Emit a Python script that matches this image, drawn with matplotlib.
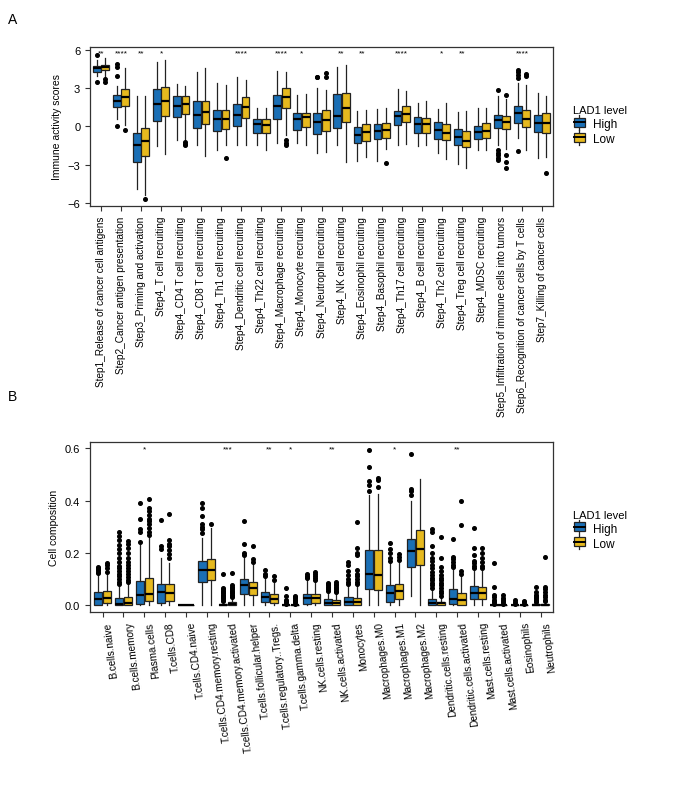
import numpy as np
import matplotlib
matplotlib.use('Agg')
from matplotlib import pyplot as plt
from matplotlib.patches import Rectangle
from matplotlib.lines import Line2D
from matplotlib.legend_handler import HandlerPatch

plt.rcParams['font.family'] = ['Liberation Sans', 'DejaVu Sans']

# ---- panel A : immune cycle steps ----
steps = ['Step1_Release of cancer cell antigens', 'Step2_Cancer antigen presentation',
         'Step3_Priming and activation', 'Step4_T cell recruiting', 'Step4_CD4 T cell recruiting',
         'Step4_CD8 T cell recruiting', 'Step4_Th1 cell recruiting', 'Step4_Dendritic cell recruiting',
         'Step4_Th22 cell recruiting', 'Step4_Macrophage recruiting', 'Step4_Monocyte recruiting',
         'Step4_Neutrophil recruiting', 'Step4_NK cell recruiting', 'Step4_Eosinophil recruiting',
         'Step4_Basophil recruiting', 'Step4_Th17 cell recruiting', 'Step4_B cell recruiting',
         'Step4_Th2 cell recruiting', 'Step4_Treg cell recruiting', 'Step4_MDSC recruiting',
         'Step5_Infiltration of immune cells into tumors', 'Step6_Recognition of cancer cells by T cells',
         'Step7_Killing of cancer cells']
a_stars = ['**', '****', '**', '*', '', '', '', '****', '', '****', '*', '', '**', '**', '',
           '****', '', '*', '**', '', '', '****', '']

a_hi_q1 = [4.3, 1.51, -2.79, 0.42, 0.73, -0.13, -0.39, 0.05, -0.52, 0.6, -0.31, -0.6, -0.13, -1.3, -0.97,
           0.08, -0.52, -0.97, -1.43, -0.97, -0.13, 0.26, -0.44]
a_hi_med = [4.57, 2.03, -1.43, 1.77, 1.64, 0.91, 0.55, 0.94, 0.16, 1.64, 0.6, 0.39, 0.86, -0.65, -0.39,
            0.81, 0.16, -0.26, -0.83, -0.44, 0.47, 1.04, 0.26]
a_hi_q3 = [4.77, 2.48, -0.52, 2.97, 2.37, 2.03, 1.33, 1.77, 0.55, 2.5, 1.04, 1.07, 2.56, -0.03, 0.23,
           1.25, 0.78, 0.37, -0.21, 0.05, 0.91, 1.62, 0.94]
a_hi_lo = [4.0, 0.6, -4.88, -1.57, -1.1, -1.49, -1.88, -1.49, -1.49, -1.28, -1.28, -2.09, -1.49, -2.71,
           -2.71, -1.49, -1.54, -2.09, -2.92, -1.88, -1.49, -0.91, -2.48]
a_hi_hi = [5.2, 3.15, 2.37, 5.09, 3.37, 4.25, 3.39, 3.86, 1.43, 4.38, 2.48, 3.0, 4.7, 1.2, 1.38,
           2.95, 1.85, 1.38, 1.17, 1.43, 2.37, 3.39, 2.63]
a_hi_fl = [[5.6, 3.5], [4.9, 4.7, 4.0, 0.0], [], [], [], [], [], [], [], [], [], [3.86, 3.92], [], [], [],
           [], [], [], [], [], [2.9, -1.88, -2.09, -2.27, -2.48, -2.66], [4.46, 4.25, 4.04, 3.83, -1.96], []]

a_lo_q1 = [4.4, 1.64, -2.32, 0.81, 0.97, 0.16, -0.23, 0.65, -0.52, 1.43, -0.05, -0.39, 0.34, -1.15, -0.89,
           0.39, -0.5, -1.1, -1.62, -0.91, -0.18, -0.05, -0.55]
a_lo_med = [4.64, 2.35, -1.15, 1.98, 1.77, 1.12, 0.55, 1.51, 0.08, 2.35, 0.73, 0.47, 1.46, -0.44, -0.26,
            0.99, 0.16, -0.5, -1.12, -0.37, 0.34, 0.6, 0.26]
a_lo_q3 = [4.85, 2.95, -0.1, 3.13, 2.37, 2.03, 1.3, 2.3, 0.55, 3.03, 1.07, 1.33, 2.6, 0.18, 0.31,
           1.62, 0.68, 0.21, -0.37, 0.26, 0.83, 1.28, 1.02]
a_lo_lo = [3.9, 0.13, -5.4, -2.17, -0.97, -2.32, -1.49, -1.49, -1.88, -0.7, -1.49, -2.0, -2.79, -2.4,
           -1.75, -1.41, -1.49, -2.53, -3.26, -1.88, -1.75, -1.83, -2.4]
a_lo_hi = [5.4, 4.57, 2.37, 5.2, 3.2, 4.57, 3.26, 3.65, 1.43, 4.3, 2.58, 2.9, 4.85, 1.3, 1.43,
           2.77, 2.03, 1.83, 1.25, 1.43, 2.17, 3.29, 2.43]
a_lo_fl = [[3.7, 3.5], [-0.3], [-5.69], [], [-1.23, -1.35, -1.49], [], [-2.5], [], [], [-1.1, -1.3, -1.49],
           [], [4.2, 3.86], [], [], [-2.84], [], [], [], [], [], [2.48, -2.27, -2.79, -3.23], [4.12, 3.99],
           [-3.65]]

# ---- panel B : cell composition ----
cells = ['B.cells.naive', 'B.cells.memory', 'Plasma.cells', 'T.cells.CD8', 'T.cells.CD4.naive',
         'T.cells.CD4.memory.resting', 'T.cells.CD4.memory.activated', 'T.cells.follicular.helper',
         'T.cells.regulatory..Tregs.', 'T.cells.gamma.delta', 'NK.cells.resting', 'NK.cells.activated',
         'Monocytes', 'Macrophages.M0', 'Macrophages.M1', 'Macrophages.M2', 'Dendritic.cells.resting',
         'Dendritic.cells.activated', 'Mast.cells.resting', 'Mast.cells.activated', 'Eosinophils',
         'Neutrophils']
b_stars = ['', '', '*', '', '', '', '***', '', '**', '*', '', '**', '', '', '*', '', '', '**', '', '', '', '']

b_hi_q1 = [0.0, 0.0, 0.005, 0.009, 0, 0.088, 0, 0.043, 0.011, 0, 0.003, 0, 0, 0.062, 0.013, 0.146, 0,
           0.003, 0.024, 0, 0, 0]
b_hi_med = [0.024, 0.004, 0.038, 0.05, 0, 0.136, 0, 0.075, 0.032, 0, 0.025, 0.009, 0.013, 0.117, 0.045,
            0.206, 0.009, 0.024, 0.047, 0, 0, 0]
b_hi_q3 = [0.051, 0.028, 0.092, 0.082, 0, 0.168, 0.004, 0.1, 0.051, 0, 0.041, 0.022, 0.032, 0.209, 0.075,
           0.253, 0.024, 0.06, 0.073, 0, 0, 0.003]
b_hi_lo = [0, 0, 0, 0, 0, 0, 0, 0, 0, 0, 0, 0, 0, 0, 0, 0.034, 0, 0, 0, 0, 0, 0]
b_hi_hi = [0.117, 0.07, 0.23, 0.18, 0, 0.257, 0.01, 0.18, 0.104, 0, 0.098, 0.05, 0.073, 0.423, 0.16,
           0.397, 0.06, 0.136, 0.13, 0, 0, 0.007]
b_hi_fl = [[0.122, 0.128, 0.133, 0.138, 0.142, 0.147],
           [0.08, 0.09, 0.1, 0.11, 0.12, 0.13, 0.14, 0.15, 0.165, 0.18, 0.2, 0.215, 0.23, 0.25, 0.265, 0.278],
           [0.24, 0.28, 0.29, 0.33, 0.39], [0.215, 0.225, 0.325], [],
           [0.275, 0.29, 0.3, 0.31, 0.34, 0.37, 0.392],
           [0.015, 0.02, 0.025, 0.03, 0.035, 0.04, 0.045, 0.05, 0.055, 0.06, 0.065, 0.12],
           [0.19, 0.2, 0.235, 0.32], [0.11, 0.12, 0.133], [0.005, 0.01, 0.015, 0.02, 0.035, 0.065],
           [0.102, 0.107, 0.112, 0.117], [0.055, 0.06, 0.065, 0.07, 0.075, 0.08, 0.085],
           [0.08, 0.09, 0.1, 0.115, 0.13, 0.155, 0.166], [0.438, 0.461, 0.476, 0.527, 0.592],
           [0.17, 0.18, 0.2, 0.215, 0.236], [0.42, 0.438, 0.446, 0.578],
           [0.065, 0.075, 0.085, 0.095, 0.105, 0.115, 0.125, 0.14, 0.155, 0.17, 0.18, 0.2, 0.225, 0.28, 0.292],
           [0.145, 0.155, 0.165, 0.175, 0.185, 0.253], [0.14, 0.15, 0.16, 0.17, 0.19, 0.22, 0.296],
           [0.005, 0.01, 0.015, 0.02, 0.03, 0.04, 0.07, 0.162], [0.005, 0.01, 0.02],
           [0.01, 0.015, 0.02, 0.025, 0.03, 0.035, 0.04, 0.05, 0.07]]

b_lo_q1 = [0.009, 0, 0.015, 0.015, 0, 0.096, 0, 0.038, 0.006, 0, 0.006, 0, 0, 0.059, 0.022, 0.153, 0, 0,
           0.024, 0, 0, 0]
b_lo_med = [0.028, 0.009, 0.043, 0.047, 0, 0.136, 0.004, 0.065, 0.024, 0, 0.028, 0.009, 0.013, 0.115,
            0.054, 0.213, 0.006, 0.018, 0.047, 0, 0, 0]
b_lo_q3 = [0.055, 0.032, 0.102, 0.079, 0, 0.178, 0.011, 0.088, 0.043, 0, 0.043, 0.018, 0.025, 0.209,
           0.079, 0.287, 0.013, 0.045, 0.07, 0, 0, 0.004]
b_lo_lo = [0] * 22
b_lo_hi = [0.121, 0.079, 0.257, 0.162, 0, 0.296, 0.025, 0.152, 0.085, 0, 0.09, 0.045, 0.073, 0.427, 0.16,
           0.483, 0.028, 0.111, 0.13, 0, 0, 0.01]
b_lo_fl = [[0.128, 0.14, 0.152, 0.16],
           [0.088, 0.097, 0.108, 0.118, 0.13, 0.14, 0.152, 0.165, 0.18, 0.2, 0.22, 0.235, 0.247],
           [0.27, 0.28, 0.295, 0.31, 0.32, 0.33, 0.345, 0.36, 0.37, 0.406],
           [0.18, 0.195, 0.21, 0.225, 0.235, 0.25, 0.35], [], [0.311],
           [0.03, 0.035, 0.04, 0.045, 0.05, 0.055, 0.06, 0.065, 0.07, 0.075, 0.124],
           [0.165, 0.175, 0.225], [0.095, 0.11], [0.005, 0.01, 0.015, 0.02, 0.025, 0.03, 0.035],
           [0.097, 0.105, 0.112, 0.12, 0.125], [0.05, 0.055, 0.06, 0.065, 0.07, 0.075, 0.08, 0.089],
           [0.08, 0.09, 0.1, 0.11, 0.12, 0.135, 0.19, 0.2, 0.22, 0.317], [0.451, 0.48, 0.485],
           [0.172, 0.182, 0.197], [],
           [0.035, 0.045, 0.055, 0.065, 0.075, 0.085, 0.095, 0.105, 0.115, 0.13, 0.145, 0.18, 0.26],
           [0.12, 0.13, 0.306, 0.397], [0.14, 0.15, 0.165, 0.18, 0.2, 0.219],
           [0.005, 0.01, 0.015, 0.02, 0.025, 0.04], [0.005, 0.01, 0.015],
           [0.015, 0.02, 0.03, 0.04, 0.05, 0.06, 0.07, 0.183]]

groups = ['High', 'Low']
colors = ['#1a6fb5', '#e6b91e']


def stats(q1, med, q3, lo, hi, fl):
    return [dict(q1=a, med=b, q3=c, whislo=d, whishi=e, fliers=f)
            for a, b, c, d, e, f in zip(q1, med, q3, lo, hi, fl)]


def draw(ax, hi_st, lo_st, n):
    x = np.arange(1, n + 1)
    for st, off, col in [(hi_st, -0.21, colors[0]), (lo_st, 0.21, colors[1])]:
        ax.bxp(st, positions=x + off, widths=0.39, patch_artist=True, showcaps=False,
               boxprops=dict(facecolor=col, edgecolor='#222222', linewidth=0.9),
               medianprops=dict(color='black', linewidth=1.6),
               whiskerprops=dict(color='#222222', linewidth=0.9),
               flierprops=dict(marker='o', markerfacecolor='black', markeredgecolor='black',
                               markersize=2.6, linestyle='none'))
    ax.set_xticks(x)
    for s in ax.spines.values():
        s.set_color('#333333')
        s.set_linewidth(0.9)
    ax.tick_params(length=3.5, width=0.8, color='#333333', labelsize=7.2)
    ax.tick_params(axis='y', labelsize=8)


class BoxKey(HandlerPatch):
    def create_artists(self, legend, orig, xd, yd, w, h, fs, trans):
        wl = Line2D([xd + w / 2] * 2, [yd - 2, yd + h + 2], color='#222222', lw=0.9, transform=trans)
        r = Rectangle((xd + w * 0.1, yd), w * 0.8, h, facecolor=orig.get_facecolor(),
                      edgecolor='#222222', lw=0.9, transform=trans)
        m = Line2D([xd + w * 0.1, xd + w * 0.9], [yd + h / 2] * 2, color='black', lw=1.4, transform=trans)
        return [wl, r, m]


def add_legend(ax, y):
    hs = [Rectangle((0, 0), 1, 1, facecolor=c) for c in colors]
    leg = ax.legend(hs, groups, title='LAD1 level', loc='upper left', bbox_to_anchor=(1.02, y),
                    frameon=False, fontsize=8.5, title_fontsize=8, handlelength=1.1, handleheight=0.8,
                    handletextpad=0.6, labelspacing=0.25, handler_map={Rectangle: BoxKey()})
    leg._legend_box.align = 'left'


fig = plt.figure(figsize=(6.85, 8.12), dpi=100)

ax1 = fig.add_axes([0.1314, 0.745, 0.676, 0.196])
draw(ax1, stats(a_hi_q1, a_hi_med, a_hi_q3, a_hi_lo, a_hi_hi, a_hi_fl),
     stats(a_lo_q1, a_lo_med, a_lo_q3, a_lo_lo, a_lo_hi, a_lo_fl), len(steps))
ax1.set_xlim(0.45, len(steps) + 0.55)
ax1.set_ylim(-6.25, 6.25)
ax1.set_yticks([-6, -3, 0, 3, 6])
ax1.set_yticklabels(['\u22126', '\u22123', '0', '3', '6'])
ax1.set_xticklabels(steps, rotation=90)
ax1.set_ylabel('Immune activity scores', fontsize=7.5)
for i, s in enumerate(a_stars):
    ax1.text(i + 1, 5.8, s, ha='center', va='center', fontsize=6)
add_legend(ax1, 0.70)

ax2 = fig.add_axes([0.1314, 0.245, 0.676, 0.209])
draw(ax2, stats(b_hi_q1, b_hi_med, b_hi_q3, b_hi_lo, b_hi_hi, b_hi_fl),
     stats(b_lo_q1, b_lo_med, b_lo_q3, b_lo_lo, b_lo_hi, b_lo_fl), len(cells))
ax2.set_xlim(0.4, len(cells) + 0.6)
ax2.set_ylim(-0.027, 0.623)
ax2.set_yticks([0, 0.2, 0.4, 0.6])
ax2.set_yticklabels(['0.0', '0.2', '0.4', '0.6'])
ax2.set_xticklabels(cells, rotation=97, ha='right', rotation_mode='anchor')
ax2.set_ylabel('Cell composition', fontsize=7.5)
for i, s in enumerate(b_stars):
    ax2.text(i + 1, 0.597, s, ha='center', va='center', fontsize=6)
add_legend(ax2, 0.665)

fig.text(0.012, 0.975, 'A', fontsize=10, va='center')
fig.text(0.012, 0.511, 'B', fontsize=10, va='center')

fig.savefig('out.png', dpi=100)
